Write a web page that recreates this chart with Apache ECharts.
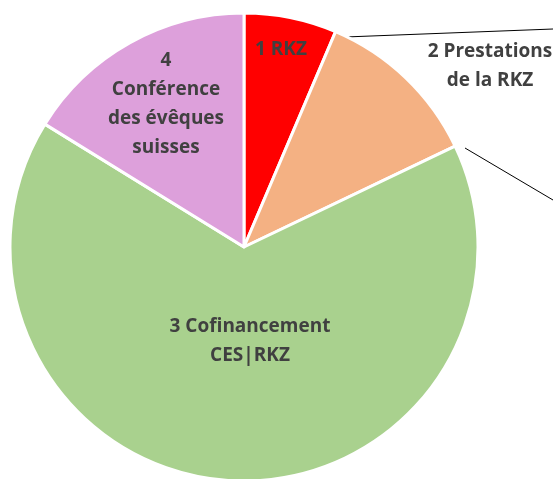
<!DOCTYPE html>
<html><head><meta charset="utf-8">
<script src="https://cdn.jsdelivr.net/npm/echarts@6/dist/echarts.min.js"></script>
<style>html,body{margin:0;padding:0;background:#fff}#c{width:553px;height:479px}</style>
</head><body><div id="c"></div>
<script>
const categories = ['1 RKZ', '2 Prestations\nde la RKZ', '3 Cofinancement\nCES|RKZ', '4\nConférence\ndes évêques\nsuisses'];
const values = [6.4, 11.5, 65.9, 16.2];
const colors = ['#FF0000', '#F4B183', '#A9D18E', '#DDA0DB'];
const labelPos = [[281, 50], [490, 66], [250, 341], [166, 104]];

const chart = echarts.init(document.getElementById('c'));
chart.setOption({
  animation: false,
  series: [{
    type: 'pie',
    center: [244, 247],
    radius: 234,
    startAngle: 90,
    clockwise: true,
    label: {
      show: true, position: 'inside', color: '#404040',
      fontFamily: 'Open Sans', fontWeight: 'bold', fontSize: 19, lineHeight: 29,
      formatter: p => p.name
    },
    labelLine: { show: false },
    labelLayout: p => ({ x: labelPos[p.dataIndex][0], y: labelPos[p.dataIndex][1], align: 'center', verticalAlign: 'middle' }),
    itemStyle: { borderColor: '#fff', borderWidth: 3 },
    data: categories.map((c, i) => ({ name: c, value: values[i], itemStyle: { color: colors[i] } }))
  }],
  graphic: [
    { type: 'line', shape: { x1: 345, y1: 37, x2: 553, y2: 29 }, style: { stroke: '#000', lineWidth: 1 } },
    { type: 'line', shape: { x1: 465, y1: 148, x2: 553, y2: 200 }, style: { stroke: '#000', lineWidth: 1 } }
  ]
});
</script></body></html>
